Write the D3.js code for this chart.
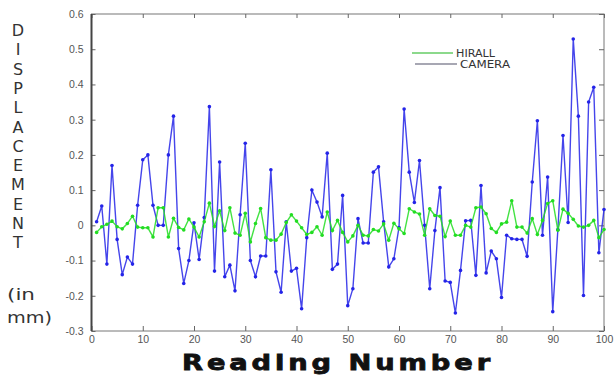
<!DOCTYPE html>
<html>
<head>
<meta charset="utf-8">
<script src="https://cdnjs.cloudflare.com/ajax/libs/d3/7.8.5/d3.min.js"></script>
<style>
  body { margin: 0; background: #fff; }
  svg { display: block; }
</style>
</head>
<body>
<svg id="chart"></svg>
<script>
// readings 1..100
const readings = d3.range(1, 101);

const camera = [
  0.01, 0.055, -0.11, 0.17, -0.04, -0.14, -0.09, -0.11, 0.057, 0.186,
  0.2, 0.057, 0.0, 0.0, 0.2, 0.31, -0.066, -0.165, -0.1, 0.007,
  -0.097, 0.022, 0.337, -0.13, 0.18, -0.146, -0.113, -0.186, 0.03, 0.233,
  -0.1, -0.146, -0.087, -0.087, 0.158, -0.132, -0.19, 0.01, -0.13, -0.122,
  -0.237, -0.035, 0.1, 0.066, 0.024, 0.205, -0.125, -0.11, 0.085, -0.228,
  -0.18, 0.019, -0.05, -0.05, 0.151, 0.166, 0.01, -0.118, -0.095, -0.006,
  0.33, 0.151, 0.065, 0.184, 0.0, -0.18, -0.015, 0.107, -0.158, -0.162,
  -0.249, -0.128, 0.013, 0.014, -0.142, 0.113, -0.135, -0.073, -0.095, -0.205,
  -0.028, -0.038, -0.04, -0.04, -0.088, 0.123, 0.297, -0.028, 0.137, -0.245,
  -0.012, 0.255, 0.008, 0.529, 0.31, -0.199, 0.35, 0.392, -0.078, 0.045
];

const hirall = [
  -0.02, -0.004, 0.003, 0.012, -0.004, -0.01, 0.005, 0.026, -0.005, -0.007,
  -0.007, -0.033, 0.05, 0.05, -0.033, 0.02, -0.006, -0.013, 0.018, -0.005,
  -0.033, 0.01, 0.063, -0.003, 0.041, -0.015, 0.05, -0.022, -0.028, 0.034,
  -0.047, 0.005, 0.048, -0.035, -0.042, -0.042, -0.025, 0.008, 0.03, 0.012,
  -0.007, -0.026, -0.02, -0.004, -0.028, 0.038, -0.015, 0.014, -0.02, -0.047,
  -0.03, 0.0, -0.028, -0.03, -0.012, -0.016, 0.004, -0.042, 0.006, -0.01,
  -0.023, 0.047, 0.038, 0.032, -0.028, 0.047, 0.028, 0.026, -0.032, 0.012,
  -0.028, -0.028, 0.0, -0.005, 0.05, 0.052, 0.033, -0.009, -0.02, 0.004,
  0.009, 0.07, -0.005, -0.005, -0.022, 0.019, -0.026, 0.014, 0.062, 0.07,
  -0.014, 0.046, 0.034, 0.017, -0.002, -0.005, 0.0, 0.014, -0.035, -0.012
];

const xTicks = [0, 10, 20, 30, 40, 50, 60, 70, 80, 90, 100];
const yTicks = [-0.3, -0.2, -0.1, 0, 0.1, 0.2, 0.3, 0.4, 0.5, 0.6];
const yLetters = 'DISPLACEMENT'.split('');

const width = 615, height = 377;
const plot = { left: 91.5, right: 604, top: 14, bottom: 331 };

const svg = d3.select('#chart')
  .attr('width', width)
  .attr('height', height)
  .style('font-family', '"DejaVu Sans", Arial, sans-serif');

const x = d3.scaleLinear().domain([0, 100]).range([plot.left, plot.right]);
const y = d3.scaleLinear().domain([-0.3, 0.6]).range([plot.bottom, plot.top]);

const fmt = d => d === 0 ? '0' : d.toFixed(1).replace('\u2212', '-');

// frame
svg.append('rect')
  .attr('x', plot.left).attr('y', plot.top)
  .attr('width', plot.right - plot.left).attr('height', plot.bottom - plot.top)
  .attr('fill', 'none').attr('stroke', '#777').attr('stroke-width', 1);

// axes
const styleAxis = g => {
  g.select('.domain').remove();
  g.selectAll('.tick line').attr('stroke', '#666');
  g.selectAll('.tick text').attr('fill', '#555').style('font-size', '10.5px');
};

svg.append('g')
  .attr('transform', `translate(0,${plot.bottom})`)
  .call(d3.axisBottom(x).tickValues(xTicks).tickSize(-5).tickPadding(5).tickFormat(d3.format('d')))
  .call(styleAxis);

svg.append('g')
  .attr('transform', `translate(0,${plot.top})`)
  .call(d3.axisTop(x).tickValues(xTicks).tickSize(-4).tickFormat(''))
  .call(styleAxis);

svg.append('g')
  .attr('transform', `translate(${plot.left},0)`)
  .call(d3.axisLeft(y).tickValues(yTicks).tickSize(-4).tickPadding(8).tickFormat(fmt))
  .call(styleAxis);

svg.append('g')
  .attr('transform', `translate(${plot.right},0)`)
  .call(d3.axisRight(y).tickValues(yTicks).tickSize(-5).tickFormat(''))
  .call(styleAxis);

// darker left spine
svg.append('line')
  .attr('x1', plot.left).attr('x2', plot.left)
  .attr('y1', plot.top).attr('y2', plot.bottom)
  .attr('stroke', '#444').attr('stroke-width', 2);

// series
const series = [
  { name: 'CAMERA', values: camera, color: '#2424e8' },
  { name: 'HIRALL', values: hirall, color: '#22dd22' }
];

const line = d3.line()
  .x((d, i) => x(readings[i]))
  .y(d => y(d));

series.forEach(s => {
  const g = svg.append('g').attr('class', 'series');
  g.append('path')
    .datum(s.values)
    .attr('fill', 'none')
    .attr('stroke', s.color)
    .attr('stroke-opacity', 0.85)
    .attr('stroke-width', 1.4)
    .attr('d', line);
  g.selectAll('circle')
    .data(s.values)
    .enter()
    .append('circle')
      .attr('cx', (d, i) => x(readings[i]))
      .attr('cy', d => y(d))
      .attr('r', 1.8)
      .attr('fill', s.color);
});

// legend
const legend = [
  { label: 'HIRALL', color: '#66cc66', x1: 412, x2: 453, yy: 53, tl: 39 },
  { label: 'CAMERA', color: '#8a8a9a', x1: 415, x2: 457, yy: 64, tl: 50 }
];
legend.forEach(l => {
  svg.append('line')
    .attr('x1', l.x1).attr('x2', l.x2)
    .attr('y1', l.yy).attr('y2', l.yy)
    .attr('stroke', l.color).attr('stroke-width', 1.5);
  svg.append('text')
    .attr('x', l.x2 + 3).attr('y', l.yy)
    .attr('dy', '0.35em')
    .attr('textLength', l.tl)
    .attr('lengthAdjust', 'spacingAndGlyphs')
    .style('font-size', '10px')
    .attr('fill', '#333')
    .text(l.label);
});

// x title
svg.append('text')
  .attr('x', 338).attr('y', 370)
  .attr('text-anchor', 'middle')
  .attr('textLength', 312)
  .attr('lengthAdjust', 'spacingAndGlyphs')
  .style('font-size', '21px')
  .style('font-weight', 'bold')
  .style('letter-spacing', '3px')
  .attr('fill', '#111')
  .attr('stroke', '#111')
  .attr('stroke-width', 0.8)
  .text('Reading Number');

// y title, stacked letters
svg.append('g')
  .selectAll('text')
  .data(yLetters)
  .enter()
  .append('text')
    .attr('x', 18)
    .attr('y', (d, i) => 36 + i * 19.3)
    .attr('text-anchor', 'middle')
    .style('font-size', '16px')
    .attr('fill', '#333')
    .text(d => d);

svg.append('text')
  .attr('x', 7).attr('y', 300)
  .attr('textLength', 28)
  .attr('lengthAdjust', 'spacingAndGlyphs')
  .style('font-size', '16px')
  .attr('fill', '#333')
  .text('(in');

svg.append('text')
  .attr('x', 7).attr('y', 323)
  .attr('textLength', 45)
  .attr('lengthAdjust', 'spacingAndGlyphs')
  .style('font-size', '16px')
  .attr('fill', '#333')
  .text('mm)');
</script>
</body>
</html>
